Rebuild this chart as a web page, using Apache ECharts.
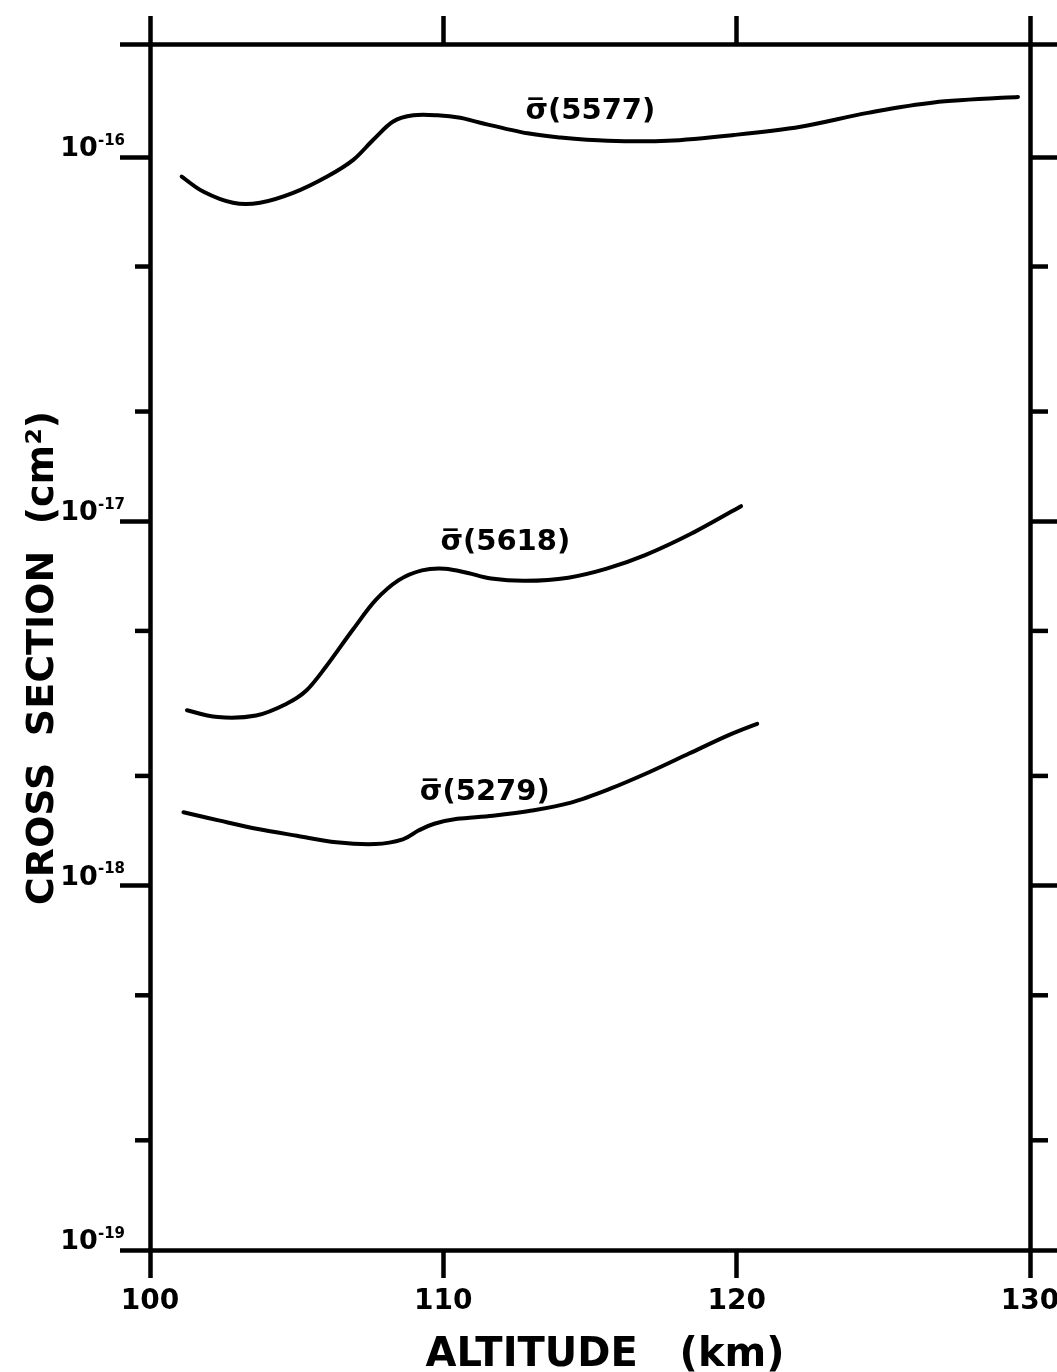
<!DOCTYPE html>
<html><head><meta charset="utf-8">
<script src="https://cdn.jsdelivr.net/npm/echarts@6/dist/echarts.min.js"></script>
<style>html,body{margin:0;padding:0;background:#fff}#c{width:1057px;height:1372px}</style>
</head><body><div id="c"></div>
<script>
// ---- data ----
const X_MIN = 100, X_MAX = 130, X_STEP = 10;
const Y_MIN = 1e-19, Y_MAX = 2.04e-16;

const alt5577 = [101.08,101.81,102.83,103.75,104.88,106.04,106.93,107.61,108.29,108.98,109.8,110.58,111.26,112.87,113.99,115.6,117.65,119.9,122.18,124.47,126.72,129.59];
const sig5577 = [8.83e-17,8.03e-17,7.48e-17,7.48e-17,7.96e-17,8.83e-17,9.81e-17,1.114e-16,1.25e-16,1.30e-16,1.30e-16,1.28e-16,1.24e-16,1.16e-16,1.13e-16,1.107e-16,1.107e-16,1.148e-16,1.21e-16,1.32e-16,1.41e-16,1.46e-16];

const alt5618 = [101.26,102.31,103.62,104.67,105.33,105.99,106.9,107.69,108.48,109.27,110.05,110.84,111.63,112.81,114.26,115.57,116.88,118.46,120.15];
const sig5618 = [3.03e-18,2.90e-18,2.93e-18,3.16e-18,3.43e-18,3.98e-18,5.02e-18,6.07e-18,6.89e-18,7.33e-18,7.41e-18,7.21e-18,6.96e-18,6.86e-18,7.0e-18,7.41e-18,8.07e-18,9.25e-18,1.10e-17];

const alt5279 = [101.14,102.34,103.68,105.01,106.35,107.68,108.62,109.15,109.69,110.48,111.69,113.02,114.35,115.69,117.03,118.36,119.69,120.7];
const sig5279 = [1.589e-18,1.51e-18,1.43e-18,1.37e-18,1.315e-18,1.30e-18,1.34e-18,1.416e-18,1.478e-18,1.525e-18,1.556e-18,1.607e-18,1.69e-18,1.845e-18,2.05e-18,2.30e-18,2.58e-18,2.78e-18];

const minorTickValues = [2e-19,5e-19,2e-18,5e-18,2e-17,5e-17];

const curveLabels = ['\u03C3\u0305(5577)', '\u03C3\u0305(5618)', '\u03C3\u0305(5279)'];
const curveLabelAnchors = [[112.8, 1.33e-16], [109.9, 8.75e-18], [109.2, 1.80e-18]];

const xTitle = 'ALTITUDE   (km)';
const yTitle = 'CROSS  SECTION  (cm\u00B2)';

// ---- chart ----
const FONT = 'DejaVu Sans';
const zip = (a, b) => a.map((v, i) => [v, b[i]]);

// smooth curve through the data points, positioned by the chart's own axes (api.coord)
const splineSeries = (name, xs, ys) => ({
  type: 'custom', name, silent: true, z: 3,
  data: zip(xs, ys),
  renderItem: (params, api) => {
    if (params.dataIndex !== 0) return { type: 'group', children: [] };
    const p = xs.map((x, i) => api.coord([x, ys[i]]));
    let d = 'M' + p[0][0] + ' ' + p[0][1];
    for (let i = 0; i < p.length - 1; i++) {
      const p0 = p[i - 1] || p[i], p1 = p[i], p2 = p[i + 1], p3 = p[i + 2] || p[i + 1];
      const c1x = p1[0] + (p2[0] - p0[0]) / 6, c1y = p1[1] + (p2[1] - p0[1]) / 6;
      const c2x = p2[0] - (p3[0] - p1[0]) / 6, c2y = p2[1] - (p3[1] - p1[1]) / 6;
      d += ' C' + c1x + ' ' + c1y + ' ' + c2x + ' ' + c2y + ' ' + p2[0] + ' ' + p2[1];
    }
    return {
      type: 'path', shape: { pathData: d },
      style: { stroke: '#000', lineWidth: 4, fill: null, lineJoin: 'round', lineCap: 'round' }
    };
  }
});

const axisLine = { show: true, lineStyle: { color: '#000', width: 4.5 } };
const tickStyle = { color: '#000', width: 4.5 };

const chart = echarts.init(document.getElementById('c'), null, { renderer: 'canvas' });
chart.setOption({
  animation: false,
  backgroundColor: '#fff',
  grid: { left: 150, right: 27, top: 44, bottom: 122, containLabel: false, outerBoundsMode: 'none' },
  xAxis: [{
    type: 'value', position: 'bottom', min: X_MIN, max: X_MAX, interval: X_STEP,
    axisLine, splitLine: { show: false },
    axisTick: { show: true, inside: false, length: 28, lineStyle: tickStyle },
    axisLabel: { margin: 38, fontSize: 28, fontWeight: 'bold', color: '#000', fontFamily: FONT },
    name: xTitle, nameLocation: 'middle', nameGap: 86, nameMoveOverlap: false,
    nameTextStyle: { fontSize: 40, fontWeight: 'bold', color: '#000', fontFamily: FONT, padding: [0, 0, 0, 30] }
  }, {
    type: 'value', position: 'top', min: X_MIN, max: X_MAX, interval: X_STEP,
    axisLine, splitLine: { show: false },
    axisTick: { show: true, inside: false, length: 28, lineStyle: tickStyle },
    axisLabel: { show: false }
  }],
  yAxis: [{
    type: 'log', logBase: 10, position: 'left', min: Y_MIN, max: Y_MAX,
    axisLine, splitLine: { show: false },
    axisTick: { show: true, inside: false, length: 30, lineStyle: tickStyle },
    axisLabel: {
      margin: 25, verticalAlign: 'middle',
      formatter: v => {
        const e = Math.log10(v), r = Math.round(e);
        if (Math.abs(e - r) > 1e-6) return '';
        return '{b|10}{s|' + r + '}';
      },
      rich: {
        b: { fontSize: 27, fontWeight: 'bold', color: '#000', fontFamily: FONT, padding: [0, 0, 16, 0] },
        s: { fontSize: 15, fontWeight: 'bold', color: '#000', fontFamily: FONT, padding: [0, 0, 32, 0] }
      }
    },
    name: yTitle, nameLocation: 'middle', nameGap: 88, nameRotate: 90, nameMoveOverlap: false,
    nameTextStyle: { fontSize: 38, fontWeight: 'bold', color: '#000', fontFamily: FONT, padding: [0, 22, 0, 0] }
  }, {
    type: 'log', logBase: 10, position: 'right', min: Y_MIN, max: Y_MAX,
    axisLine, splitLine: { show: false },
    axisTick: { show: true, inside: false, length: 27, lineStyle: tickStyle },
    axisLabel: { show: false }
  }],
  series: [
    splineSeries('5577', alt5577, sig5577),
    splineSeries('5618', alt5618, sig5618),
    splineSeries('5279', alt5279, sig5279),
    {
      type: 'custom', name: 'minorTicks', silent: true, clip: false, z: 4,
      data: minorTickValues.map(v => [X_MIN, v]),
      renderItem: (params, api) => {
        const v = api.value(1);
        const l = api.coord([X_MIN, v]);
        const r = api.coord([X_MAX, v]);
        const st = { stroke: '#000', lineWidth: 4.5 };
        return { type: 'group', children: [
          { type: 'line', shape: { x1: l[0] - 15, y1: l[1], x2: l[0], y2: l[1] }, style: st },
          { type: 'line', shape: { x1: r[0], y1: r[1], x2: r[0] + 18, y2: r[1] }, style: st }
        ]};
      }
    },
    {
      type: 'scatter', name: 'labels', silent: true, symbolSize: 0, z: 5,
      itemStyle: { opacity: 1 },
      data: curveLabelAnchors.map((p, i) => ({ value: p, name: curveLabels[i] })),
      label: {
        show: true, position: 'right', distance: 0, formatter: '{b}', opacity: 1,
        fontSize: 29, fontWeight: 'bold', color: '#000', fontFamily: FONT
      }
    }
  ]
});
</script>
</body></html>
